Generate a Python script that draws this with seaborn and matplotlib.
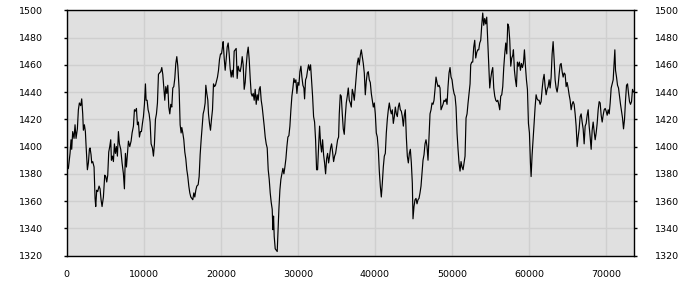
import numpy as np
import pandas as pd
import matplotlib
matplotlib.use("Agg")
import matplotlib.pyplot as plt
import seaborn as sns

x_values = [
    0, 216, 433, 563, 649, 779, 952, 1082, 1212, 1385, 1515, 1645, 1818, 1948, 2078, 2165, 2294, 2424, 2511,
    2684, 2814, 2944, 3030, 3160, 3247, 3377, 3550, 3680, 3766, 3896, 4026, 4199, 4329, 4459, 4589, 4762,
    4935, 5065, 5195, 5325, 5455, 5584, 5714, 5801, 5931, 6061, 6191, 6320, 6450, 6580, 6710, 6840, 7013,
    7186, 7359, 7489, 7619, 7749, 7879, 8009, 8182, 8355, 8485, 8658, 8788, 8918, 9048, 9177, 9307, 9437,
    9567, 9697, 9827, 9957, 10087, 10216, 10303, 10433, 10563, 10693, 10823, 10952, 11126, 11255, 11385,
    11515, 11645, 11775, 11905, 12035, 12208, 12338, 12468, 12597, 12727, 12857, 12987, 13117, 13247, 13377,
    13506, 13636, 13766, 13896, 14026, 14156, 14286, 14416, 14589, 14719, 14848, 14935, 15065, 15195, 15325,
    15455, 15584, 15714, 15844, 15974, 16104, 16234, 16364, 16494, 16623, 16753, 16883, 17056, 17186, 17316,
    17446, 17576, 17706, 17835, 17965, 18052, 18182, 18312, 18398, 18528, 18658, 18788, 18918, 19048, 19177,
    19307, 19437, 19567, 19697, 19827, 19957, 20087, 20216, 20303, 20433, 20563, 20693, 20823, 20952, 21082,
    21212, 21342, 21472, 21602, 21732, 21861, 21991, 22121, 22251, 22381,
    22511, 22641, 22771, 22900, 23030, 23160, 23290, 23420, 23550, 23680, 23810, 23939, 24069, 24199, 24329,
    24459, 24589, 24719, 24848, 24978, 25108, 25238, 25368, 25498, 25628, 25758, 25887, 26017, 26147, 26277,
    26407, 26537, 26667, 26753, 26840, 26926, 27056, 27186, 27316, 27403, 27532, 27662, 27792, 27922, 28052,
    28182, 28312, 28442, 28571, 28701, 28831, 28961, 29091, 29221, 29351, 29481, 29610, 29740, 29870, 30000,
    30130, 30260, 30390, 30519, 30649, 30779, 30866, 30996, 31126, 31255, 31385, 31515, 31645, 31775, 31905,
    32035, 32165, 32294, 32424, 32554, 32684, 32814, 32944, 33074, 33203, 33333, 33463, 33593, 33723, 33853,
    33983, 34113, 34242, 34372, 34502, 34632, 34762, 34892, 35022, 35152, 35281, 35368, 35498, 35628, 35758,
    35887, 36017, 36147, 36277, 36407, 36537, 36667, 36797, 36926, 37056, 37186, 37316, 37446, 37576, 37706,
    37835, 37965, 38095, 38225, 38355, 38485, 38615, 38745, 38874, 39004, 39134, 39264, 39394, 39524, 39654,
    39784, 39913, 40043, 40173, 40303, 40433, 40563, 40693, 40823, 40952, 41082, 41212, 41342, 41472, 41602,
    41732, 41861, 41991, 42121, 42251, 42381, 42511, 42641, 42771, 42900, 43030, 43160, 43290, 43420, 43550,
    43680, 43810, 43939, 44069, 44199, 44329, 44459, 44589, 44719, 44848, 44935, 45065, 45195, 45325, 45455,
    45584, 45714, 45844, 45974, 46104, 46234, 46364, 46494, 46623, 46753, 46883, 47013, 47143, 47273, 47403,
    47532, 47662, 47792, 47922, 48052, 48182, 48312, 48442, 48571, 48701, 48831, 48961, 49091, 49221, 49351,
    49481, 49610, 49740, 49870, 50000, 50130, 50260, 50390, 50519, 50649, 50779, 50909, 51039, 51169, 51299,
    51429, 51558, 51688,
    51818, 51948, 52078, 52208, 52338, 52424, 52554, 52684, 52814, 52944, 53074, 53203, 53333, 53463, 53593,
    53723, 53853, 53983, 54113, 54242, 54372, 54502, 54632, 54762, 54892, 55022, 55152, 55281, 55411, 55541,
    55671, 55801, 55931, 56061, 56190, 56320, 56450, 56580, 56710, 56840, 56970, 57100, 57229, 57359, 57489,
    57619, 57749, 57879, 57965, 58095, 58225, 58355, 58485, 58615, 58745, 58874, 59004, 59134, 59264, 59394,
    59524, 59654, 59784, 59913, 60043, 60173, 60260, 60390, 60519, 60649, 60779, 60909, 61039, 61169, 61299,
    61429, 61558, 61688, 61818, 61948, 62078, 62208, 62338, 62468, 62597, 62727, 62857, 62987, 63117, 63247,
    63377, 63506, 63636, 63766, 63896, 64026, 64156, 64286, 64416, 64545, 64675, 64805, 64935, 65065, 65195,
    65325, 65455, 65584, 65714, 65844, 65974, 66104, 66234, 66364, 66494, 66623, 66753, 66883, 67013, 67143,
    67273, 67403, 67532, 67662, 67792, 67922, 68052, 68182, 68312, 68442, 68571, 68701, 68831, 68961, 69091,
    69221, 69351, 69481, 69610, 69740, 69870, 70000, 70130, 70260, 70390, 70519, 70649, 70779, 70909, 71039,
    71126, 71212, 71342, 71472, 71602, 71732, 71861, 71991, 72121, 72251, 72381, 72511, 72641, 72771, 72900,
    73030, 73160, 73290, 73420, 73550, 73636,
]

y_values = [
    1383, 1384, 1395, 1405, 1398, 1411, 1406, 1416, 1406, 1413, 1427, 1432, 1430, 1435, 1424, 1412, 1416, 1411, 1401,
    1383, 1388, 1398, 1399, 1394, 1388, 1389, 1385, 1362, 1356, 1368, 1367, 1371, 1369, 1361, 1356, 1363,
    1379, 1378, 1374, 1379, 1396, 1400, 1405, 1390, 1393, 1389, 1402, 1395, 1400, 1393, 1411, 1402, 1398,
    1388, 1380, 1369, 1395, 1385, 1395, 1404, 1400, 1404, 1410, 1415, 1427, 1426, 1428, 1416, 1418, 1407,
    1411, 1411, 1417, 1422, 1431, 1446, 1434, 1434, 1427, 1424, 1418, 1402, 1399, 1393, 1402,
    1420, 1424, 1432, 1453, 1454, 1455, 1458, 1453, 1444, 1434, 1444, 1439, 1445, 1429, 1424,
    1431, 1429, 1443, 1444, 1450, 1461, 1466, 1459, 1442, 1416, 1410, 1414, 1410, 1405, 1396,
    1391, 1383, 1378, 1371, 1366, 1363, 1362, 1361, 1366, 1363, 1368, 1371, 1372, 1378, 1394,
    1405, 1414, 1424, 1427, 1432, 1445, 1439, 1434, 1424, 1417, 1412, 1420, 1427, 1446, 1444,
    1445, 1448, 1451, 1456, 1464, 1468, 1468, 1473, 1477, 1465, 1456, 1464, 1473, 1476, 1468,
    1457, 1451, 1456, 1451, 1470, 1471, 1472, 1450, 1459, 1456,
    1455, 1459, 1466, 1460, 1442, 1447, 1459, 1468, 1473, 1464, 1450, 1439, 1437, 1439, 1434,
    1442, 1431, 1438, 1434, 1442, 1444, 1434, 1429, 1422, 1415, 1407, 1402, 1399, 1383, 1376,
    1366, 1359, 1354, 1339, 1349, 1334, 1325, 1324, 1323, 1336, 1354, 1368, 1376, 1380, 1384,
    1380, 1385, 1391, 1400, 1407, 1408, 1415, 1427, 1437, 1443, 1450, 1447, 1449, 1439, 1447,
    1445, 1455, 1459, 1451, 1445, 1443, 1435, 1449, 1451, 1456, 1460, 1456, 1460, 1449, 1437,
    1422, 1418, 1405, 1383, 1383, 1400, 1415, 1402, 1396, 1405, 1394, 1388, 1380, 1391, 1395,
    1388, 1393, 1399, 1402, 1396, 1389, 1393, 1395, 1400, 1405, 1407, 1424, 1438, 1437, 1424,
    1413, 1409, 1422, 1432, 1437, 1443, 1434, 1432, 1429, 1442, 1439, 1434, 1443, 1451, 1461,
    1465, 1460, 1467, 1471, 1466, 1461, 1454, 1438, 1448, 1454, 1455, 1449, 1447, 1439, 1434,
    1429, 1432, 1424, 1410, 1407, 1398, 1382, 1371, 1363, 1373, 1385, 1393, 1395, 1410, 1420,
    1427, 1432, 1427, 1424, 1427, 1417, 1422, 1429, 1424, 1422, 1429, 1432, 1427, 1426, 1422,
    1415, 1423, 1427, 1407, 1393, 1388, 1395, 1398, 1388, 1373, 1347, 1356, 1361, 1362, 1358,
    1361, 1362, 1366, 1371, 1380, 1390, 1394, 1402, 1405, 1400, 1390, 1407, 1424, 1427, 1432,
    1431, 1434, 1442, 1451, 1447, 1444, 1445, 1443, 1427, 1429, 1431, 1434, 1433, 1435, 1431,
    1444, 1454, 1458, 1451, 1449, 1443, 1439, 1437, 1429, 1410, 1398, 1388, 1382, 1389, 1385,
    1383, 1388, 1393,
    1421, 1424, 1432, 1439, 1446, 1460, 1462, 1462, 1473, 1478, 1465, 1469, 1471, 1471, 1476,
    1478, 1489, 1498, 1489, 1494, 1490, 1495, 1478, 1461, 1443, 1450, 1455, 1458, 1443, 1437,
    1434, 1433, 1434, 1431, 1427, 1437, 1438, 1444, 1458, 1468, 1476, 1468, 1490, 1488, 1478,
    1459, 1465, 1467, 1471, 1456, 1449, 1444, 1462, 1459, 1462, 1456, 1461, 1458, 1461, 1471,
    1459, 1449, 1442, 1417, 1410, 1388, 1378, 1394, 1405, 1417, 1429, 1438, 1435, 1434, 1434,
    1431, 1433, 1442, 1449, 1453, 1444, 1438, 1442, 1444, 1449, 1443, 1451, 1468, 1477, 1464,
    1449, 1443, 1440, 1445, 1453, 1460, 1461, 1455, 1451, 1454, 1453, 1444, 1447, 1443, 1438,
    1434, 1427, 1431, 1433, 1431, 1424, 1415, 1400, 1407, 1413, 1422, 1424, 1418, 1413, 1402,
    1415, 1417, 1423, 1427, 1415, 1407, 1398, 1412, 1418, 1411, 1405, 1410, 1417, 1427, 1433,
    1432, 1423, 1418, 1423, 1427, 1428, 1426, 1423, 1427, 1424, 1432, 1443, 1446, 1449, 1462,
    1471, 1456, 1451, 1445, 1443, 1437, 1431, 1426, 1421, 1413, 1420, 1434, 1445, 1446, 1439,
    1433, 1431, 1433, 1442, 1440, 1440,
]

x_ticks = [0, 10000, 20000, 30000, 40000, 50000, 60000, 70000]
y_ticks = [1320, 1340, 1360, 1380, 1400, 1420, 1440, 1460, 1480, 1500]

df = pd.DataFrame({"x": x_values, "y": y_values})

sns.set_style("white", {"axes.facecolor": "#e0e0e0"})
plt.rcParams["font.family"] = ["DejaVu Sans"]

fig = plt.figure(figsize=(7, 3), dpi=100)
ax = fig.add_axes([66.7 / 700, 1 - 255.6 / 300, (634.3 - 66.7) / 700, (255.6 - 10.3) / 300])
ax.set_facecolor("#e0e0e0")

sns.lineplot(data=df, x="x", y="y", ax=ax, color="black", linewidth=0.85, sort=False)

ax.set_xlim(0, 73650)
ax.set_ylim(1320, 1500)
ax.set_xticks(x_ticks)
ax.set_yticks(y_ticks)
ax.set_xticklabels([str(v) for v in x_ticks])
ax.set_yticklabels([str(v) for v in y_ticks])
ax.grid(True, color="#cfcfcf", linewidth=1.0)
ax.set_axisbelow(True)
ax.set_xlabel("")
ax.set_ylabel("")

for s in ax.spines.values():
    s.set_visible(True)
    s.set_color("black")
    s.set_linewidth(1.0)

ax.tick_params(axis="both", which="both", direction="out", length=2.5, width=1.0,
               color="black", labelsize=6.8, labelcolor="black")
ax.tick_params(axis="x", pad=8)
ax.tick_params(axis="y", pad=14.5, left=True, right=False, labelleft=True, labelright=False)

# right-hand duplicate y axis labels
ax2 = ax.twinx()
ax2.set_ylim(1320, 1500)
ax2.set_yticks(y_ticks)
ax2.set_yticklabels([str(v) for v in y_ticks])
ax2.grid(False)
for s in ax2.spines.values():
    s.set_visible(False)
ax2.tick_params(axis="y", direction="out", length=2.5, width=1.0, color="black",
                labelsize=6.8, labelcolor="black", pad=12.4, right=True, labelright=True,
                left=False, labelleft=False)

fig.savefig("out.png", dpi=100)
